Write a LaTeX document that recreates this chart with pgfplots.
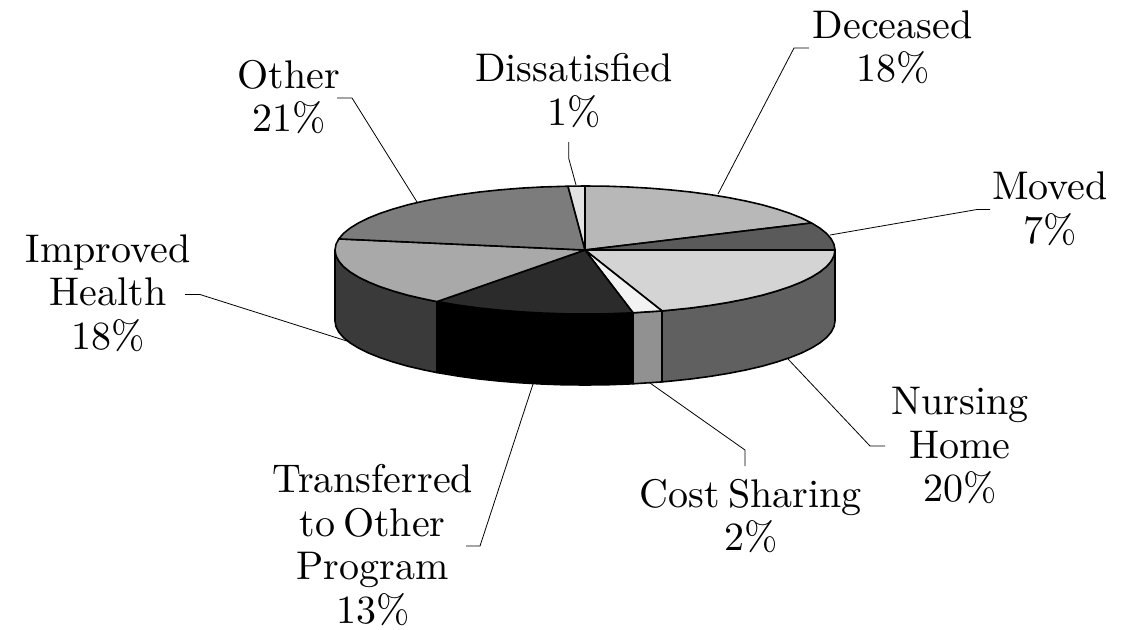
\documentclass[border=0pt]{standalone}
\usepackage{fontspec}
\setmainfont{lmroman10-regular.otf}
\usepackage{pgfplots}
\pgfplotsset{compat=1.18}
\definecolor{cDec}{HTML}{B8B8B8}
\definecolor{cMov}{HTML}{5A5A5A}
\definecolor{cNur}{HTML}{D4D4D4}
\definecolor{cNurS}{HTML}{606060}
\definecolor{cCos}{HTML}{F2F2F2}
\definecolor{cCosS}{HTML}{919191}
\definecolor{cTra}{HTML}{2B2B2B}
\definecolor{cTraS}{HTML}{000000}
\definecolor{cImp}{HTML}{A9A9A9}
\definecolor{cImpS}{HTML}{3A3A3A}
\definecolor{cOth}{HTML}{7C7C7C}
\definecolor{cDis}{HTML}{E2E2E2}
\tikzset{
  slice/.style={draw=black, line width=1.6pt, line join=round},
  lead/.style={draw=black, line width=0.8pt, line join=miter},
  lab/.style={anchor=base, inner sep=0pt, align=center, font=\fontsize{40}{43.5}\selectfont},
}
\begin{document}
\begin{tikzpicture}
\begin{axis}[
  scale only axis, width=1140pt, height=629pt,
  xmin=0, xmax=1140, ymin=0, ymax=629, y dir=reverse,
  hide axis, clip=false,
]
% page extent
\addplot[draw=none] coordinates {(0,0) (1140,629)};
% leader lines
\addplot[lead] coordinates {(718,194) (794,48) (809,48)};
\addplot[lead] coordinates {(830,235) (977,209.5) (990,209.5)};
\addplot[lead] coordinates {(788,359) (870,446) (885,446)};
\addplot[lead] coordinates {(650,383) (745,450) (745,466)};
\addplot[lead] coordinates {(533,384) (480,546) (466,546)};
\addplot[lead] coordinates {(350,342) (200,294.5) (185,294.5)};
\addplot[lead] coordinates {(417,202) (352,98) (337,98)};
\addplot[lead] coordinates {(576,185) (568.7,158.3) (568.7,142)};
% side: improved health
\addplot[slice, fill=cImpS] coordinates {(335,250) (336,255.6) (338.8,261.1) (343.5,266.6) (350.1,271.9) (358.4,277) (368.5,282) (380.2,286.7) (393.5,291.1) (408.2,295.3) (424.3,299) (437,301.6)
 (437,372.6) (424.3,370) (408.2,366.3) (393.5,362.1) (380.2,357.7) (368.5,353) (358.4,348) (350.1,342.9) (343.5,337.6) (338.8,332.1) (336,326.6) (335,321)} -- cycle;
% side: transferred
\addplot[slice, fill=cTraS] coordinates {(437,301.6) (460,305.4) (479.3,308) (499.5,310.1) (520.3,311.8) (541.6,313) (563.2,313.8) (585,314) (606.8,313.8) (628.4,313) (633,312.8)
 (633,383.8) (628.4,384) (606.8,384.8) (585,385) (563.2,384.8) (541.6,384) (520.3,382.8) (499.5,381.1) (479.3,379) (460,376.4) (437,372.6)} -- cycle;
% side: cost sharing
\addplot[slice, fill=cCosS] coordinates {(633,312.8) (662,310.9) (662,381.9) (633,383.8)} -- cycle;
% side: nursing home
\addplot[slice, fill=cNurS] coordinates {(662,310.9) (670.5,310.1) (690.7,308) (710,305.4) (728.4,302.4) (745.7,299) (761.8,295.3) (776.5,291.1) (789.8,286.7) (801.5,282) (811.6,277) (819.9,271.9) (826.5,266.6) (831.2,261.1) (834,255.6) (835,250)
 (835,321) (834,326.6) (831.2,332.1) (826.5,337.6) (819.9,342.9) (811.6,348) (801.5,353) (789.8,357.7) (776.5,362.1) (761.8,366.3) (745.7,370) (728.4,373.4) (710,376.4) (690.7,379) (670.5,381.1) (662,381.9)} -- cycle;
% top: deceased
\addplot[slice, fill=cDec] coordinates {(585,250) (585,186) (606.8,186.2) (628.4,187) (649.7,188.2) (670.5,189.9) (690.7,192) (710,194.6) (728.4,197.6) (745.7,201) (761.8,204.7) (776.5,208.9) (789.8,213.3) (801.5,218) (811.6,223)} -- cycle;
% top: moved
\addplot[slice, fill=cMov] coordinates {(585,250) (811.6,223) (819.9,228.1) (826.5,233.4) (831.2,238.9) (834,244.4) (835,250)} -- cycle;
% top: nursing home
\addplot[slice, fill=cNur] coordinates {(585,250) (835,250) (834,255.6) (831.2,261.1) (826.5,266.6) (819.9,271.9) (811.6,277) (801.5,282) (789.8,286.7) (776.5,291.1) (761.8,295.3) (745.7,299) (728.4,302.4) (710,305.4) (690.7,308) (670.5,310.1) (662,310.9)} -- cycle;
% top: cost sharing
\addplot[slice, fill=cCos] coordinates {(585,250) (662,310.9) (633,312.8)} -- cycle;
% top: transferred
\addplot[slice, fill=cTra, draw=black] coordinates {(585,250) (633,312.8) (628.4,313) (606.8,313.8) (585,314) (563.2,313.8) (541.6,313) (520.3,311.8) (499.5,310.1) (479.3,308) (460,305.4) (437,301.6)} -- cycle;
% top: improved health
\addplot[slice, fill=cImp] coordinates {(585,250) (437,301.6) (424.3,299) (408.2,295.3) (393.5,291.1) (380.2,286.7) (368.5,282) (358.4,277) (350.1,271.9) (343.5,266.6) (338.8,261.1) (336,255.6) (335,250) (336,244.4) (338.8,238.9)} -- cycle;
% top: other
\addplot[slice, fill=cOth] coordinates {(585,250) (338.8,238.9) (343.5,233.4) (350.1,228.1) (358.4,223) (368.5,218) (380.2,213.3) (393.5,208.9) (408.2,204.7) (424.3,201) (441.6,197.6) (460,194.6) (479.3,192) (499.5,189.9) (520.3,188.2) (541.6,187) (568,186.2)} -- cycle;
% top: dissatisfied
\addplot[slice, fill=cDis] coordinates {(585,250) (568,186.2) (585,186)} -- cycle;
% labels
\node[lab] at (axis cs:892.7,81.7) {Deceased\\18\%};
\node[lab] at (axis cs:1050,243) {Moved\\7\%};
\node[lab] at (axis cs:960,501.7) {Nursing\\Home\\20\%};
\node[lab] at (axis cs:750.7,550.7) {\spaceskip=8pt Cost Sharing\\2\%};
\node[lab] at (axis cs:372.7,623) {Transferred\\\spaceskip=8pt to Other\\Program\\13\%};
\node[lab] at (axis cs:108,349) {Improved\\Health\\18\%};
\node[lab] at (axis cs:289,131.7) {Other\\21\%};
\node[lab] at (axis cs:574,125) {Dissatisfied\\1\%};
\end{axis}
\end{tikzpicture}
\end{document}
